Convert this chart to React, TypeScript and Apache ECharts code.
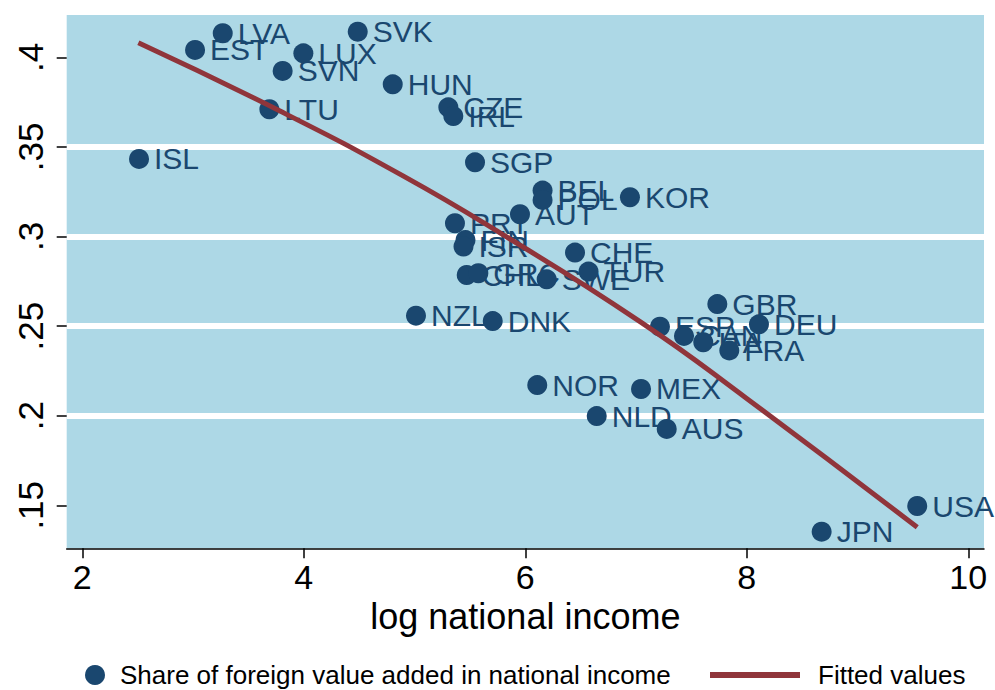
import React, { useEffect, useRef } from 'react';
import * as echarts from 'echarts';

const countries = ['LVA', 'EST', 'SVK', 'LUX', 'SVN', 'HUN', 'LTU', 'CZE', 'IRL', 'ISL', 'SGP', 'BEL', 'POL', 'KOR', 'AUT', 'PRT', 'FIN', 'ISR', 'CHE', 'CHL', 'GRC', 'SWE', 'TUR', 'NZL', 'DNK', 'GBR', 'ESP', 'CAN', 'ITA', 'FRA', 'DEU', 'NOR', 'MEX', 'NLD', 'AUS', 'JPN', 'USA'];
const logIncome = [3.268, 3.018, 4.487, 3.996, 3.809, 4.803, 3.689, 5.305, 5.35, 2.512, 5.546, 6.156, 6.156, 6.945, 5.952, 5.365, 5.46, 5.442, 6.449, 5.471, 5.576, 6.193, 6.571, 5.013, 5.706, 7.734, 7.216, 7.433, 7.607, 7.842, 8.11, 6.108, 7.045, 6.645, 7.277, 8.676, 9.539];
const foreignShare = [0.4134, 0.4041, 0.4143, 0.4022, 0.3924, 0.3849, 0.371, 0.3721, 0.3672, 0.3433, 0.3414, 0.3256, 0.3204, 0.3219, 0.3124, 0.3074, 0.298, 0.2944, 0.291, 0.2785, 0.2795, 0.2761, 0.2804, 0.2558, 0.2528, 0.2623, 0.2497, 0.2445, 0.241, 0.2364, 0.251, 0.2171, 0.2149, 0.1998, 0.1926, 0.1353, 0.1496];

const fittedX = [2.506, 3.785, 4.896, 5.772, 7.036, 7.999, 9.539];
const fittedY = [0.4081, 0.37, 0.3338, 0.302, 0.2525, 0.2096, 0.1377];

const xTicks = [2, 4, 6, 8, 10];
const xTickLabels = ['2', '4', '6', '8', '10'];
const yTicks = [0.15, 0.2, 0.25, 0.3, 0.35, 0.4];
const yTickLabels = ['.15', '.2', '.25', '.3', '.35', '.4'];

const legendNames = ['Share of foreign value added in national income', 'Fitted values'];
const xTitle = 'log national income';

const FONT = 'Liberation Sans, Arial, Helvetica, sans-serif';
const NAVY = '#1a476f';
const MAROON = '#90353b';

function lookup(values: number[], labels: string[], v: number): string {
  for (let i = 0; i < values.length; i++) {
    if (Math.abs(values[i] - v) < 1e-9) return labels[i];
  }
  return '';
}

export default function App() {
  const ref = useRef<HTMLDivElement>(null);
  useEffect(() => {
    const chart = echarts.init(ref.current as HTMLDivElement, null, { renderer: 'svg' });
    const option: any = {
      animation: false,
      backgroundColor: '#ffffff',
      textStyle: { fontFamily: FONT },
      grid: {
        left: 66.7,
        right: 11,
        top: 15,
        bottom: 141.7,
        show: true,
        backgroundColor: '#add8e6',
        borderWidth: 0,
        containLabel: false,
        outerBoundsMode: 'none',
      },
      xAxis: {
        type: 'value',
        min: 1.859,
        max: 10.142,
        name: xTitle,
        nameLocation: 'middle',
        nameGap: 50,
        nameMoveOverlap: false,
        nameTextStyle: { fontSize: 36, color: '#000', fontFamily: FONT },
        axisLine: { show: true, onZero: false, lineStyle: { color: '#000', width: 1.5 } },
        axisTick: { show: true, length: 10, customValues: xTicks, lineStyle: { color: '#000', width: 1.5 } },
        axisLabel: {
          customValues: xTicks,
          margin: 12,
          fontSize: 34,
          color: '#000',
          fontFamily: FONT,
          formatter: (v: number) => lookup(xTicks, xTickLabels, v),
        },
        splitLine: { show: false },
      },
      yAxis: {
        type: 'value',
        min: 0.126,
        max: 0.4236,
        axisLine: { show: false },
        axisTick: { show: true, length: 10, customValues: yTicks, lineStyle: { color: '#000', width: 1.5 } },
        axisLabel: {
          customValues: yTicks,
          rotate: 90,
          margin: 19,
          fontSize: 35,
          color: '#000',
          fontFamily: FONT,
          formatter: (v: number) => lookup(yTicks, yTickLabels, v),
        },
        splitLine: { show: true, showMinLine: false, showMaxLine: false, lineStyle: { color: '#ffffff', width: 6 } },
      },
      legend: [
        {
          data: [{ name: legendNames[0], icon: 'circle' }],
          left: 85,
          top: 662,
          itemWidth: 40,
          itemHeight: 20,
          padding: 0,
          selectedMode: false,
          textStyle: { fontSize: 26, color: '#000', fontFamily: FONT },
        },
        {
          data: [{ name: legendNames[1], icon: 'rect' }],
          left: 710,
          top: 662,
          itemWidth: 90,
          itemHeight: 6,
          padding: 0,
          selectedMode: false,
          formatter: '{a|{name}}',
          textStyle: {
            fontSize: 26,
            color: '#000',
            fontFamily: FONT,
            rich: { a: { padding: [0, 0, 0, 13], fontSize: 26, color: '#000', fontFamily: FONT } },
          },
        },
      ],
      series: [
        {
          type: 'scatter',
          name: legendNames[0],
          z: 2,
          symbol: 'circle',
          symbolSize: 20,
          itemStyle: { color: NAVY, opacity: 1 },
          label: {
            show: true,
            position: 'right',
            distance: 5,
            formatter: '{b}',
            fontSize: 30,
            color: NAVY,
            fontFamily: FONT,
          },
          emphasis: { disabled: true },
          data: countries.map((c, i) => ({ name: c, value: [logIncome[i], foreignShare[i]] })),
        },
        {
          type: 'line',
          name: legendNames[1],
          z: 3,
          symbol: 'none',
          showSymbol: false,
          smooth: 0.5,
          lineStyle: { color: MAROON, width: 5 },
          itemStyle: { color: MAROON },
          emphasis: { disabled: true },
          data: fittedX.map((x, i) => [x, fittedY[i]]),
        },
      ],
    };
    chart.setOption(option);
    return () => chart.dispose();
  }, []);
  return <div ref={ref} style={{ width: 995, height: 690, position: 'absolute', left: 0, top: 0 }} />;
}
